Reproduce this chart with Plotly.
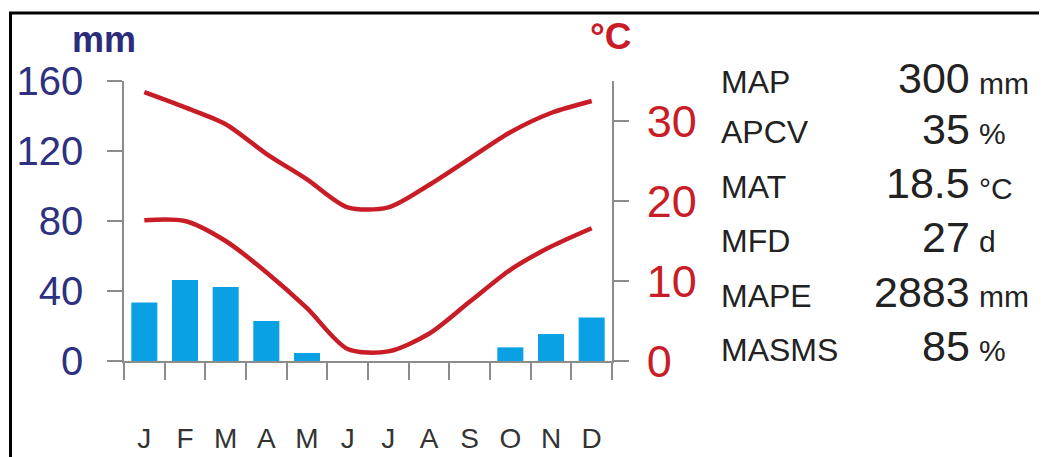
import plotly.graph_objects as go

# The page draws the figure 8 px in from the top-left corner (body margin),
# so the figure is 8 px smaller and all pixel positions are shifted by 8.
OFF = 8
W, H = 1047 - OFF, 457 - OFF

months = ["J", "F", "M", "A", "M", "J", "J", "A", "S", "O", "N", "D"]
precip_mm = [33.5, 46.3, 42.3, 22.9, 4.6, 0, 0, 0, 0, 7.8, 15.4, 24.8]
tmax_c = [33.6, 31.7, 29.6, 25.9, 22.7, 19.2, 19.2, 22.0, 25.3, 28.6, 31.0, 32.5]
tmin_c = [17.6, 17.5, 15.0, 11.1, 6.6, 1.5, 1.2, 3.4, 7.4, 11.4, 14.3, 16.6]
precip_ticks = [0, 40, 80, 120, 160]
temp_ticks = [0, 10, 20, 30]

stat_labels = ["MAP", "APCV", "MAT", "MFD", "MAPE", "MASMS"]
stat_values = ["300", "35", "18.5", "27", "2883", "85"]
stat_units = ["mm", "%", "°C", "d", "mm", "%"]

xpos = list(range(len(months)))

def px_x(x):
    return (x - OFF) / W

def px_y(y):
    return 1 - (y - OFF) / H

BLUE = "#0AA1E4"
RED = "#C81C26"
NAVY = "#2E3080"
AXIS = "#8C8C8C"
FONT = "Liberation Sans, Arial, sans-serif"

fig = go.Figure()
fig.add_trace(go.Bar(x=xpos, y=precip_mm, width=0.64, marker=dict(color=BLUE, line=dict(width=0)),
                     yaxis="y", showlegend=False))
for series in (tmax_c, tmin_c):
    fig.add_trace(go.Scatter(x=xpos, y=series, mode="lines", yaxis="y2", showlegend=False,
                             line=dict(color=RED, width=4.5, shape="spline", smoothing=0.8)))

fig.update_layout(
    template="none",
    width=W, height=H,
    autosize=False,
    margin=dict(l=0, r=0, t=0, b=0, pad=0),
    paper_bgcolor="white", plot_bgcolor="white",
    font=dict(family=FONT),
    xaxis=dict(
        domain=[px_x(124), px_x(612)], automargin=False,
        range=[-0.5, 11.5], tickmode="array", tickvals=xpos, ticktext=months,
        showgrid=False, zeroline=False, showline=True, linecolor=AXIS, linewidth=1.5,
        ticks="outside", ticklen=17, tickcolor="rgba(0,0,0,0)",
        ticklabelstandoff=35,
        tickfont=dict(size=28, color="#333333"),
        minor=dict(tickmode="array", tickvals=[i - 0.5 for i in range(13)], ticks="outside",
                   ticklen=17, tickwidth=1.5, tickcolor=AXIS, showgrid=False),
    ),
    yaxis=dict(
        domain=[px_y(361), px_y(81)], automargin=False,
        range=[0, 160], tickmode="array", tickvals=precip_ticks,
        showgrid=False, zeroline=False, showline=True, linecolor=AXIS, linewidth=1.5,
        ticks="outside", ticklen=15, tickwidth=1.5, tickcolor=AXIS,
        ticklabelstandoff=16,
        tickfont=dict(size=40, color=NAVY),
    ),
    yaxis2=dict(
        domain=[px_y(361), px_y(81)], automargin=False,
        overlaying="y", side="right", anchor="x",
        range=[0, 35], tickmode="array", tickvals=temp_ticks,
        showgrid=False, zeroline=False, showline=True, linecolor=AXIS, linewidth=1.5,
        ticks="outside", ticklen=15, tickwidth=1.5, tickcolor=AXIS,
        ticklabelstandoff=9,
        tickfont=dict(size=45, color=RED),
    ),
)

ann = []
ann.append(dict(text="<b>mm</b>", x=px_x(104), y=px_y(40), xanchor="center", yanchor="middle",
                font=dict(size=36, color="#2B2C7C")))
ann.append(dict(text="<b>°C</b>", x=px_x(611), y=px_y(36), xanchor="center", yanchor="middle",
                font=dict(size=37, color=RED)))

row_centers = [82, 132.5, 187, 241, 295.5, 349.5]
for lab, val, unit, yc in zip(stat_labels, stat_values, stat_units, row_centers):
    ann.append(dict(text=lab, x=px_x(719), y=px_y(yc), xanchor="left", yanchor="middle",
                    font=dict(size=32, color="#222222")))
    ann.append(dict(text=val, x=px_x(972), y=px_y(yc - 4), xanchor="right", yanchor="middle",
                    font=dict(size=43, color="#222222")))
    ann.append(dict(text=unit, x=px_x(977), y=px_y(yc + 1), xanchor="left", yanchor="middle",
                    font=dict(size=30, color="#222222")))
for a in ann:
    a.update(xref="paper", yref="paper", showarrow=False)
fig.update_layout(annotations=ann)

fig.update_layout(shapes=[
    dict(type="line", xref="paper", yref="paper", x0=px_x(9), x1=1, y0=px_y(13), y1=px_y(13),
         line=dict(color="black", width=3)),
    dict(type="line", xref="paper", yref="paper", x0=px_x(10.5), x1=px_x(10.5), y0=0, y1=px_y(12),
         line=dict(color="black", width=3)),
])

fig.write_html("out.html")
